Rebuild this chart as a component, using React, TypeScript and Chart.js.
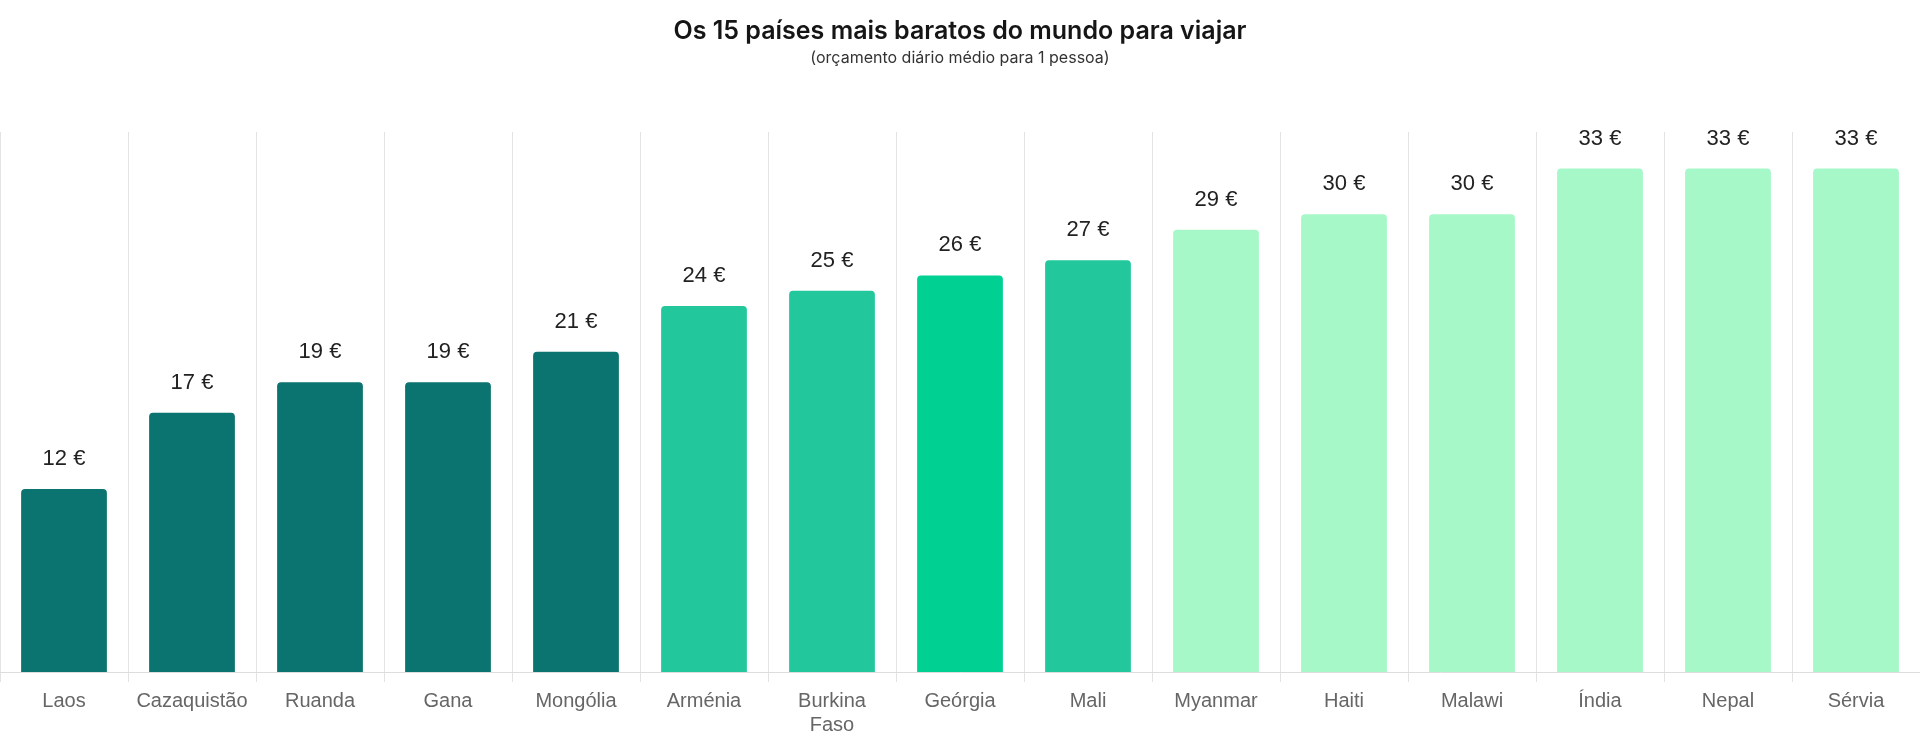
import React, { useEffect, useRef } from "react";
import { Chart, registerables } from "chart.js";

Chart.register(...registerables);

const categories: (string | string[])[] = [
  "Laos", "Cazaquistão", "Ruanda", "Gana", "Mongólia", "Arménia", ["Burkina", "Faso"],
  "Geórgia", "Mali", "Myanmar", "Haiti", "Malawi", "Índia", "Nepal", "Sérvia",
];
const values: number[] = [12, 17, 19, 19, 21, 24, 25, 26, 27, 29, 30, 30, 33, 33, 33];
const valueSuffix = " €";
const titleText = "Os 15 países mais baratos do mundo para viajar";
const subtitleText = "(orçamento diário médio para 1 pessoa)";

const DARK = "#0b7370";
const MID = "#22c89b";
const BRIGHT = "#00d193";
const LIGHT = "#a6f8c8";
const barColors = [DARK, DARK, DARK, DARK, DARK, MID, MID, BRIGHT, MID, LIGHT, LIGHT, LIGHT, LIGHT, LIGHT, LIGHT];

const headerPlugin = {
  id: "header",
  afterDraw(chart: any) {
    const ctx = chart.ctx;
    ctx.save();
    ctx.textAlign = "center";
    ctx.textBaseline = "middle";
    ctx.fillStyle = "#151515";
    ctx.font = "600 25px Inter";
    ctx.fillText(titleText, chart.width / 2, 31);
    ctx.fillStyle = "#333333";
    ctx.font = "400 16px Inter";
    ctx.fillText(subtitleText, chart.width / 2, 58);
    ctx.restore();
  },
};

const valueLabelPlugin = {
  id: "valueLabels",
  afterDatasetsDraw(chart: any) {
    const ctx = chart.ctx;
    const meta = chart.getDatasetMeta(0);
    ctx.save();
    ctx.textAlign = "center";
    ctx.textBaseline = "middle";
    ctx.fillStyle = "#222222";
    ctx.font = "22px 'Liberation Sans', Arial, sans-serif";
    meta.data.forEach((bar: any, i: number) => {
      ctx.fillText(`${values[i]}${valueSuffix}`, bar.x, bar.y - 30);
    });
    ctx.restore();
  },
};

export default function App() {
  const canvasRef = useRef<HTMLCanvasElement | null>(null);

  useEffect(() => {
    if (!canvasRef.current) return;
    const chart = new Chart(canvasRef.current, {
      type: "bar",
      data: {
        labels: categories,
        datasets: [
          {
            data: values,
            backgroundColor: barColors,
            borderRadius: 4,
            borderSkipped: "bottom",
            barPercentage: 0.67,
            categoryPercentage: 1,
          },
        ],
      },
      options: {
        animation: false,
        responsive: true,
        maintainAspectRatio: false,
        layout: { padding: { top: 132, left: 0, right: 0, bottom: 0 } },
        plugins: {
          legend: { display: false },
          title: { display: false },
          tooltip: { enabled: false },
        },
        scales: {
          x: {
            offset: true,
            grid: {
              display: true,
              offset: true,
              color: "#e3e3e3",
              lineWidth: 1,
              drawTicks: true,
              tickLength: 10,
            },
            border: { display: true, color: "#dddddd" },
            ticks: {
              color: "#666666",
              padding: 7,
              font: { family: "'Liberation Sans', Arial, sans-serif", size: 20, lineHeight: 1.2 },
              maxRotation: 0,
              autoSkip: false,
            },
          },
          y: {
            display: false,
            min: 0,
            max: 35.4,
          },
        },
      },
      plugins: [headerPlugin, valueLabelPlugin],
    });
    return () => chart.destroy();
  }, []);

  return (
    <div style={{ position: "absolute", left: 0, top: 0, width: 1920, height: 744, background: "#ffffff" }}>
      <canvas ref={canvasRef} />
    </div>
  );
}
